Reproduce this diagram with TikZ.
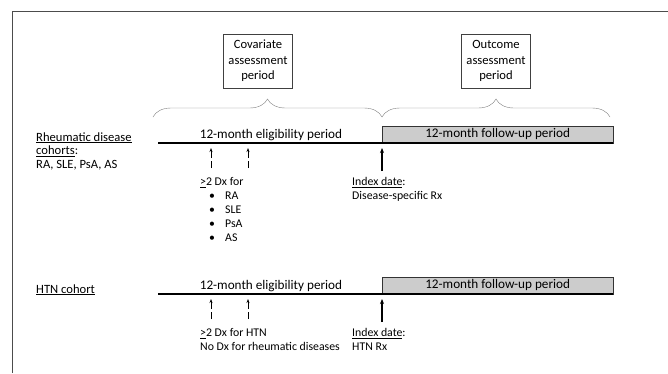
\documentclass[tikz,border=0pt]{standalone}
\usepackage{fontspec}
\setmainfont{Carlito}
\usetikzlibrary{decorations.pathreplacing,arrows.meta}

\begin{document}
\begin{tikzpicture}[
    x=1pt, y=-1pt,
    % общие настройки текста
    every node/.style={font=\fontsize{12.6}{14}\selectfont, inner sep=0pt, text=black},
    % рамки периодов
    periodbox/.style={draw=black!75, fill=white, align=center, minimum width=69pt, minimum height=54pt, font=\fontsize{12.6}{15.5}\selectfont},
    span/.style={draw=black!50, decorate, decoration={brace, amplitude=18pt}},
    timeline/.style={line width=1.5pt},
    period/.style={anchor=base, font=\fontsize{13.2}{14}\selectfont},
    followup/.style={draw=black!80, fill=black!20, minimum width=231pt, minimum height=17pt, font=\fontsize{13.2}{14}\selectfont},
    dxarrow/.style={-{Stealth[length=4pt,width=3pt]}, line width=0.8pt, dash pattern=on 7pt off 3pt on 30pt off 0pt},
    indexarrow/.style={-{Stealth[length=5pt,width=4pt]}, line width=1.3pt},
    % многострочный текст: привязка по базовой линии последней строки
    notes/.style={align=left, anchor=base west, font=\fontsize{11.8}{14}\selectfont}
]
    \useasboundingbox (0,0) rectangle (668,373);

    % рамка
    \draw[black!70, line width=0.8pt] (12,373) -- (12,11) -- (668,11);

    % периоды оценки
    \node[periodbox] (covbox) at (258,61) {Covariate\\assessment\\period};
    \node[periodbox] (outbox) at (496,61) {Outcome\\assessment\\period};
    \coordinate (covL) at (153,117);
    \coordinate (covR) at (382,117);
    \coordinate (outR) at (610,117);
    \draw[span] (covL) -- (covR);
    \draw[span] (covR) -- (outR);

    % Ревматические когорты
    \node[notes, font=\fontsize{12.6}{13.5}\selectfont] (r-label) at (36,168)
        {\underline{Rheumatic disease}\\\underline{cohorts}:\\RA, SLE, PsA, AS};
    \coordinate (r-start) at (158,143);
    \coordinate (r-index) at (382,143);
    \node[followup, anchor=south west] (r-follow) at (r-index) {12-month follow-up period};
    \draw[timeline] (r-start) -- (r-follow.south east);
    \node[period] (r-elig) at (271,138.5) {12-month eligibility period};
    \coordinate (r-dx1) at (211,168);
    \coordinate (r-dx1top) at (211,148);
    \coordinate (r-dx2) at (248,168);
    \coordinate (r-dx2top) at (248,148);
    \draw[dxarrow] (r-dx1) -- (r-dx1top);
    \draw[dxarrow] (r-dx2) -- (r-dx2top);
    \coordinate (r-idx) at (382,171);
    \draw[indexarrow] (r-idx) -- (r-index |- r-dx1top);
    \node[notes] (r-dx) at (200,241.5)
        {\underline{>}2 Dx for\\
         \makebox[25pt][l]{\hspace{9pt}\textbullet}RA\\
         \makebox[25pt][l]{\hspace{9pt}\textbullet}SLE\\
         \makebox[25pt][l]{\hspace{9pt}\textbullet}PsA\\
         \makebox[25pt][l]{\hspace{9pt}\textbullet}AS};
    \node[notes] (r-rx) at (352,199.5) {\underline{Index date}:\\Disease-specific Rx};

    % Когорта HTN
    \node[notes, font=\fontsize{12.6}{14}\selectfont] (h-label) at (36,293) {\underline{HTN cohort}};
    \coordinate (h-start) at (158,294);
    \coordinate (h-index) at (382,294);
    \node[followup, anchor=south west] (h-follow) at (h-index) {12-month follow-up period};
    \draw[timeline] (h-start) -- (h-follow.south east);
    \node[period] (h-elig) at (271,289.5) {12-month eligibility period};
    \coordinate (h-dx1) at (211,319);
    \coordinate (h-dx1top) at (211,299);
    \coordinate (h-dx2) at (248,319);
    \coordinate (h-dx2top) at (248,299);
    \draw[dxarrow] (h-dx1) -- (h-dx1top);
    \draw[dxarrow] (h-dx2) -- (h-dx2top);
    \coordinate (h-idx) at (382,322);
    \draw[indexarrow] (h-idx) -- (h-index |- h-dx1top);
    \node[notes] (h-dx) at (200,350.5) {\underline{>}2 Dx for HTN\\No Dx for rheumatic diseases};
    \node[notes] (h-rx) at (352,350.5) {\underline{Index date}:\\HTN Rx};

\end{tikzpicture}
\end{document}
